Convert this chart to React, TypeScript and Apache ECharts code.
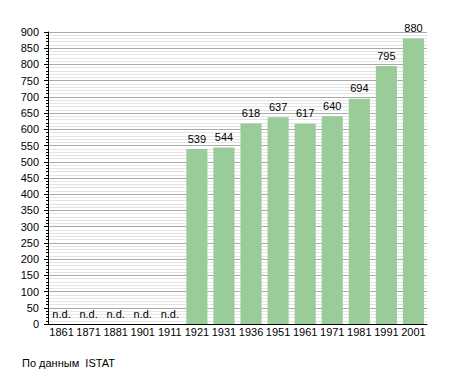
import React, { useEffect, useRef } from "react";
import * as echarts from "echarts";

const years = ["1861", "1871", "1881", "1901", "1911", "1921", "1931", "1936", "1951", "1961", "1971", "1981", "1991", "2001"];
const population: (number | null)[] = [null, null, null, null, null, 539, 544, 618, 637, 617, 640, 694, 795, 880];
const missingLabel = "n.d.";
const sourceNote = "По данным  ISTAT";

export default function App() {
  const ref = useRef<HTMLDivElement>(null);
  useEffect(() => {
    if (!ref.current) return;
    const chart = echarts.init(ref.current, undefined, { renderer: "svg" });
    const font = "'Liberation Sans', Arial, sans-serif";
    const data = population.map((v) =>
      v === null
        ? { value: 0, label: { formatter: missingLabel } }
        : { value: v }
    );
    chart.setOption({
      animation: false,
      backgroundColor: "#ffffff",
      textStyle: { fontFamily: font },
      grid: { left: 48, top: 32, right: 28, bottom: 49, containLabel: false },
      xAxis: {
        type: "category",
        data: years,
        axisLine: { show: true, lineStyle: { color: "#000", width: 1 } },
        axisTick: { show: false },
        axisLabel: { color: "#000", fontSize: 11, margin: 2, fontFamily: font, interval: 0 },
        splitLine: { show: false },
      },
      yAxis: {
        type: "value",
        min: 0,
        max: 900,
        interval: 50,
        axisLine: { show: true, lineStyle: { color: "#000", width: 1 } },
        axisTick: { show: true, length: 4, lineStyle: { color: "#000" } },
        minorTick: { show: true, splitNumber: 5, length: 2, lineStyle: { color: "#000" } },
        axisLabel: { color: "#000", fontSize: 11, margin: 9, fontFamily: font },
        splitLine: { show: true, lineStyle: { color: "#aaaaaa", width: 1 } },
        minorSplitLine: { show: true, lineStyle: { color: "#e4e4e4", width: 1 } },
      },
      series: [
        {
          type: "bar",
          data,
          barCategoryGap: "22%",
          itemStyle: { color: "#99cc99" },
          label: {
            show: true,
            position: "top",
            distance: 5,
            color: "#000",
            fontSize: 11,
            fontFamily: font,
          },
        },
      ],
      graphic: [
        {
          type: "text",
          left: 22,
          top: 357,
          style: { text: sourceNote, fill: "#000", fontSize: 11, fontFamily: font },
        },
      ],
    });
    return () => chart.dispose();
  }, []);
  return (
    <div
      ref={ref}
      style={{ position: "fixed", left: 0, top: 0, width: 455, height: 373 }}
    />
  );
}
